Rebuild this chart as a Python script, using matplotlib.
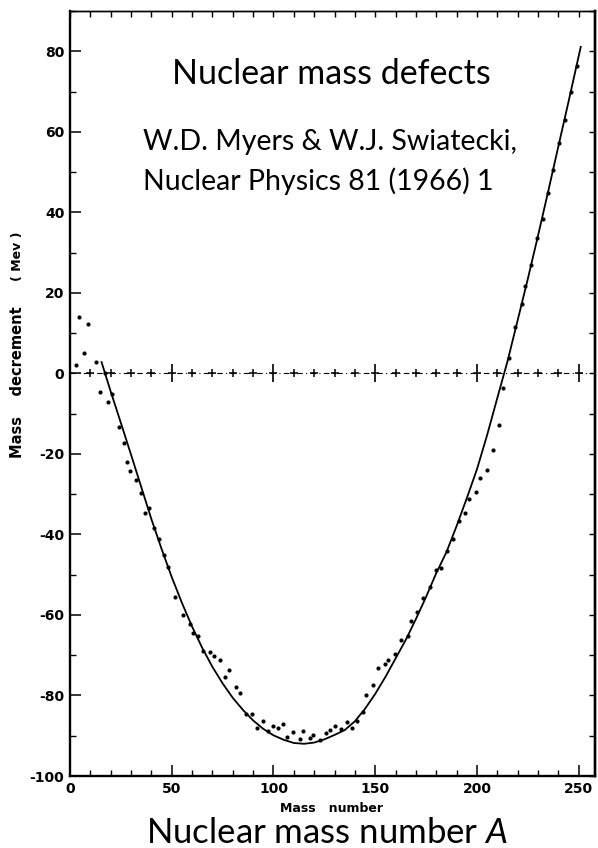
import numpy as np
import matplotlib
matplotlib.use('Agg')
import matplotlib.pyplot as plt
from matplotlib.ticker import MultipleLocator, NullFormatter

plt.rcParams['mathtext.fontset'] = 'custom'
plt.rcParams['mathtext.rm'] = 'Lato'
plt.rcParams['mathtext.it'] = 'Lato:italic'
plt.rcParams['axes.unicode_minus'] = False

dot_A = [3.1, 4.6, 6.7, 8.9, 12.8, 14.7, 17.3, 18.5, 20.6, 24.2, 26.3, 27.9,
         29.7, 32.4, 34.9, 36.9, 38.9, 41.5, 43.9, 46.1, 48.0, 51.5,
         55.7, 58.9, 60.5, 63.0, 65.4, 68.7, 70.8, 73.6, 76.1, 78.2, 81.4,
         83.4, 86.7, 89.6, 91.9, 94.8, 97.3, 100.0, 102.0, 104.9, 106.6,
         109.8, 112.8, 114.7, 117.7, 119.6, 122.9, 125.8, 127.8, 130.1,
         133.3, 136.1, 138.5, 140.8, 143.8, 145.7, 148.7, 151.6, 154.9,
         156.5, 159.8, 162.8, 166.3, 167.7, 170.7, 173.6, 176.7, 179.7,
         182.1, 185.4, 188.2, 191.1, 194.0, 196.3, 199.3, 201.7, 204.9,
         207.9, 210.7, 213.0, 215.6, 218.8, 222.1, 223.4, 226.5, 229.4,
         232.2, 234.8, 237.6, 240.4, 243.3, 246.1, 249.0]
dot_M = [2.2, 14.0, 5.0, 12.2, 2.9, -4.6, 0.1, -7.0, -5.2, -13.2, -17.3, -22.0,
         -24.3, -26.6, -29.6, -34.6, -33.4, -38.3, -41.1, -45.2, -48.1, -55.5,
         -60.1, -62.2, -64.4, -65.3, -69.0, -69.2, -70.1, -71.3, -75.3, -73.6,
         -77.9, -79.4, -84.5, -84.7, -88.0, -86.4, -88.9, -87.7, -88.1, -87.0,
         -90.4, -89.1, -90.9, -88.9, -90.6, -89.8, -91.0, -89.3, -88.5, -87.5,
         -88.3, -86.6, -88.0, -86.4, -84.1, -79.8, -77.3, -73.1, -72.3,
         -71.1, -69.8, -66.3, -65.3, -61.4, -59.3, -55.8, -53.1, -48.9,
         -48.3, -44.0, -41.1, -36.7, -34.7, -31.1, -29.5, -26.1, -24.0,
         -19.1, -12.8, -3.6, 3.9, 11.5, 17.3, 21.7, 27.0, 33.5,
         38.4, 44.8, 50.6, 57.3, 62.9, 69.9, 76.3]

# ─── fitted curve (solid line), read every 5 units ───────────────
fit_A = [15.5, 20, 25, 30, 35, 40, 45, 50, 55, 60, 65, 70, 75, 80, 85, 90,
         95, 100, 105, 110, 115, 120, 125, 130, 135, 140, 145, 150, 155,
         160, 165, 170, 175, 180, 185, 190, 195, 200, 205, 210, 215, 220,
         225, 230, 235, 240, 245, 251]
fit_M = [2.8, -4.5, -12.3, -20.2, -28.2, -36.2, -43.6, -50.6, -57.0, -62.9,
         -68.2, -72.9, -77.0, -80.6, -83.6, -86.2, -88.3, -89.9, -91.0, -91.8,
         -92.0, -91.7, -90.9, -89.8, -88.6, -86.4, -83.3, -79.6, -75.4,
         -70.8, -66.2, -61.0, -55.5, -49.6, -44.4, -37.9, -31.0, -23.8,
         -15.3, -6.1, 3.0, 13.2, 23.5, 34.2, 45.2, 56.4, 67.5, 81.1]

zero_marks = list(range(10, 260, 10))
x_ticks = [0, 50, 100, 150, 200, 250]
y_ticks = [-100, -80, -60, -40, -20, 0, 20, 40, 60, 80]

W, H = 598, 848
fig = plt.figure(figsize=(W / 100, H / 100), dpi=100)
ax = fig.add_axes([70 / W, 1 - 776 / H, 525 / W, 765 / H])

ax.plot(fit_A, fit_M, color='black', lw=1.3, zorder=3)
ax.plot(dot_A, dot_M, 'o', ms=3.0, color='black', mew=0, zorder=4)

# dash-dot zero line with small crosses every 10, tall bars every 50
ax.axhline(0, color='black', lw=0.8, ls=(0, (5, 3, 1, 3)), zorder=2)
small = [a for a in zero_marks if a % 50]
big = [a for a in zero_marks if a % 50 == 0]
ax.plot(small, [0] * len(small), ls='none', marker='+', ms=6, mew=1.1,
        color='black', zorder=2)
ax.plot(big, [0] * len(big), ls='none', marker='|', ms=13, mew=1.2,
        color='black', zorder=2)
ax.plot(big, [0] * len(big), ls='none', marker='_', ms=6, mew=1.1,
        color='black', zorder=2)

ax.set_xlim(0, 258)
ax.set_ylim(-100, 90)
ax.set_xticks(x_ticks)
ax.set_yticks(y_ticks)
ax.xaxis.set_minor_locator(MultipleLocator(10))
ax.yaxis.set_minor_locator(MultipleLocator(10))
ax.tick_params(which='major', direction='in', length=8, width=1.1,
               labelsize=10, pad=4)
ax.tick_params(which='minor', direction='in', length=4, width=1.0)
for lab in ax.get_xticklabels() + ax.get_yticklabels():
    lab.set_fontweight('bold')

# short inward ticks on the top and right frame
top = ax.secondary_xaxis('top')
top.xaxis.set_major_locator(MultipleLocator(10))
top.xaxis.set_major_formatter(NullFormatter())
top.tick_params(direction='in', length=4, width=1.0)
right = ax.secondary_yaxis('right')
right.yaxis.set_major_locator(MultipleLocator(10))
right.yaxis.set_major_formatter(NullFormatter())
right.tick_params(direction='in', length=4, width=1.0)

for side in ['left', 'bottom', 'right']:
    ax.spines[side].set_linewidth(1.7)
ax.spines['top'].set_linewidth(1.0)
top.spines['top'].set_linewidth(1.0)
right.spines['right'].set_linewidth(1.7)

# axis captions from the scan
fig.text(18 / W, 1 - 256 / H, '( Mev )', rotation=90, fontsize=9,
         fontweight='bold', ha='center', va='center')
fig.text(18 / W, 1 - 382 / H, 'Mass    decrement', rotation=90, fontsize=10.5,
         fontweight='bold', ha='center', va='center')
fig.text(332 / W, 1 - 809 / H, 'Mass   number', fontsize=9,
         fontweight='bold', ha='center', va='center')

# overlaid annotation text
fig.text(331 / W, 1 - 74 / H, 'Nuclear mass defects', fontsize=24.5,
         family='Lato', ha='center', va='center')
fig.text(143 / W, 1 - 142 / H, 'W.D. Myers & W.J. Swiatecki,', fontsize=20.5,
         family='Lato', ha='left', va='center')
fig.text(143 / W, 1 - 181 / H, 'Nuclear Physics 81 (1966) 1', fontsize=20.5,
         family='Lato', ha='left', va='center')
fig.text(327 / W, 1 - 833 / H, 'Nuclear mass number $A$', fontsize=25,
         family='Lato', ha='center', va='center')

fig.savefig('out.png', dpi=100, facecolor='white')
